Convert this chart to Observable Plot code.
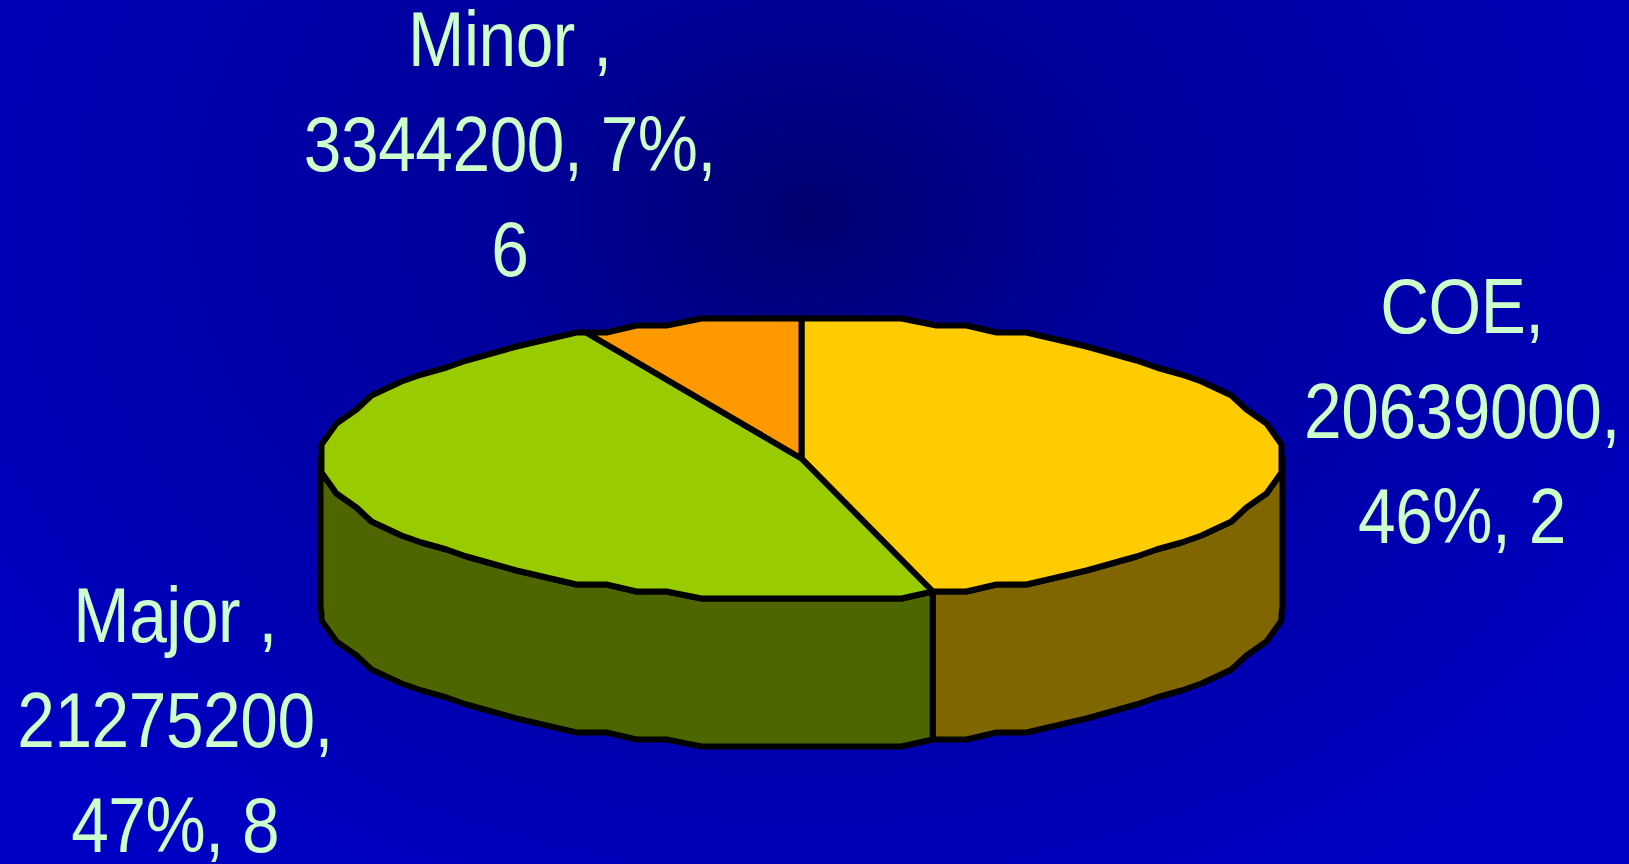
<!DOCTYPE html>
<html>
<head>
<meta charset="utf-8">
<script src="https://cdn.jsdelivr.net/npm/d3@7"></script>
<script src="https://cdn.jsdelivr.net/npm/@observablehq/plot@0.6"></script>
<style>html,body{margin:0;padding:0;background:#0000b8;overflow:hidden}svg{display:block}</style>
</head>
<body>
<div id="chart"></div>
<script>
const names = ["COE", "Major", "Minor"];
const values = [20639000, 21275200, 3344200];
const labels = ["COE,\n20639000,\n46%, 2", "Major ,\n21275200,\n47%, 8", "Minor ,\n3344200, 7%,\n6"];
const topColors = ["#ffcc00", "#99cc00", "#ff9900"];
const sideColors = ["#806600", "#4d6600", "#804d00"];

const W = 1629, H = 864;
const cx = 801, cy = 458, rx = 481, ry = 140, depthPx = 148;
const depth = depthPx / ry;
const gx = 5 / rx, gy = 7 / ry, step = 4;
const labelOffsets = [[184, -35], [-178, 204], [-181, -185]];
const textSqueeze = 0.867;

const total = d3.sum(values);
let acc = 0;
const slices = names.map((name, i) => {
  const a0 = acc / total * 360; acc += values[i];
  const a1 = acc / total * 360;
  return {name, i, a0, a1, mid: (a0 + a1) / 2};
});
const rad = d => d * Math.PI / 180;
const snap = (v, g) => Math.round(v / g) * g;
const rim = (deg, dz = 0) => ({x: snap(Math.sin(rad(deg)), gx), y: snap(-Math.cos(rad(deg)), gy) + dz});
const edge = (deg, dz = 0) => ({x: Math.sin(rad(deg)), y: snap(-Math.cos(rad(deg)), gy) + dz});
function arc(a0, a1, dz = 0) {
  const pts = [edge(a0, dz)];
  const first = Math.ceil(a0 / step) * step;
  for (let a = first; a < a1; a += step) if (a > a0) pts.push(rim(a, dz));
  pts.push(edge(a1, dz));
  return pts;
}
const topRows = slices.flatMap(s => {
  const p = [{x: 0, y: 0}, ...arc(s.a0, s.a1), {x: 0, y: 0}];
  return p.map(q => ({...q, key: "top" + s.i, color: topColors[s.i]}));
});
const sideRows = slices.flatMap(s => {
  const a0 = Math.max(s.a0, 90), a1 = Math.min(s.a1, 270);
  if (a1 <= a0) return [];
  const t = arc(a0, a1), b = arc(a0, a1, depth).reverse();
  return [...t, ...b, t[0]].map(q => ({...q, key: "side" + s.i, color: sideColors[s.i]}));
});

const labelMark = s => Plot.text([s], {
  x: d => Math.sin(rad(d.mid)),
  y: d => -Math.cos(rad(d.mid)),
  text: d => labels[d.i],
  dx: labelOffsets[s.i][0], dy: labelOffsets[s.i][1],
  lineAnchor: "middle", lineHeight: 1.35, textAnchor: "middle",
  fill: "#ccffcc", fontSize: 78, fontFamily: "Liberation Sans"
});

const chart = Plot.plot({
  width: W, height: H, margin: 0,
  x: {axis: null, domain: [-cx / rx, (W - cx) / rx], range: [0, W]},
  y: {axis: null, domain: [-cy / ry, (H - cy) / ry], range: [0, H]},
  color: {type: "identity"},
  style: {
    background: "radial-gradient(ellipse 1050px 800px at 810px 215px, #000070 0%, #000098 27%, #0000c4 100%)",
    letterSpacing: "-0.5px", overflow: "hidden"
  },
  marks: [
    Plot.line(sideRows, {x: "x", y: "y", z: "key", fill: "color", stroke: "black", strokeWidth: 6, strokeLinejoin: "round"}),
    Plot.line(topRows, {x: "x", y: "y", z: "key", fill: "color", stroke: "black", strokeWidth: 6, strokeLinejoin: "round"}),
    ...slices.map(labelMark)
  ]
});
chart.querySelectorAll("text").forEach(t => {
  const tr = t.getAttribute("transform") || "";
  t.setAttribute("transform", `${tr} scale(${textSqueeze},1)`);
});
document.getElementById("chart").append(chart);
</script>
</body>
</html>
